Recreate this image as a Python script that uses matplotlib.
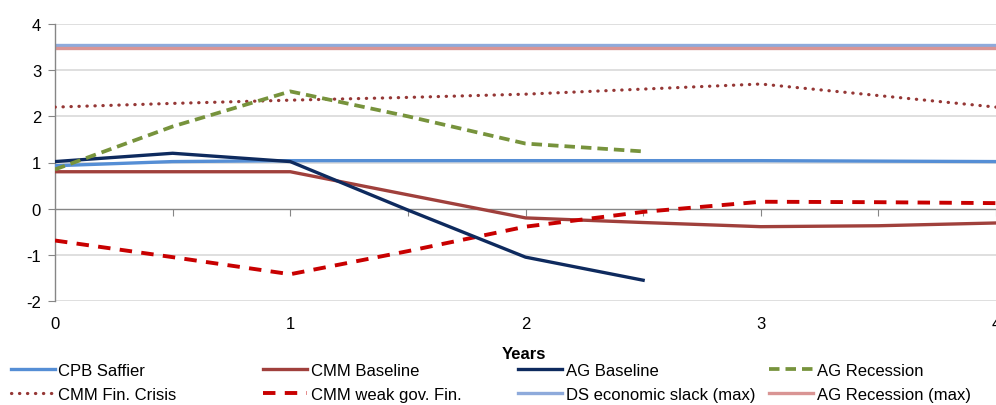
import matplotlib
matplotlib.use("Agg")
import matplotlib.pyplot as plt
from matplotlib.lines import Line2D
from matplotlib.transforms import blended_transform_factory

plt.rcParams['font.family'] = ['Liberation Sans', 'DejaVu Sans']

# Horizon in years (half-year steps)
years = [0, 0.5, 1, 1.5, 2, 2.5, 3, 3.5, 4]
years_ag = [0, 0.5, 1, 1.5, 2, 2.5]

cpb_saffier = [0.93, 1.02, 1.04, 1.04, 1.04, 1.04, 1.04, 1.03, 1.02]
cmm_baseline = [0.80, 0.80, 0.80, 0.30, -0.20, -0.30, -0.39, -0.37, -0.31]
ag_baseline = [1.02, 1.20, 1.02, -0.03, -1.05, -1.55]
ag_recession = [0.85, 1.78, 2.54, 2.00, 1.41, 1.24]
cmm_fin_crisis = [2.20, 2.28, 2.35, 2.41, 2.48, 2.59, 2.70, 2.45, 2.20]
cmm_weak_gov = [-0.69, -1.05, -1.42, -0.92, -0.39, -0.07, 0.15, 0.14, 0.12]
ds_slack_max = [3.55] * len(years)
ag_recession_max = [3.49] * len(years)

y_ticks = [-2, -1, 0, 1, 2, 3, 4]
x_labels = [0, 1, 2, 3, 4]
x_minor = [0.5, 1, 1.5, 2, 2.5, 3, 3.5, 4]

fig = plt.figure(figsize=(9.96, 4.06), dpi=100)
ax = fig.add_axes([55 / 996, 1 - 302 / 406, 1 - 55 / 996, (302 - 25) / 406])
ax.set_xlim(0, 4)
ax.set_ylim(-2, 4)

# horizontal gridlines
for yv in y_ticks:
    if yv != 0:
        ax.axhline(yv, color='#d9d9d9', lw=1.2, zorder=0)

styles = {
    'CPB Saffier': dict(color='#558ED5', lw=2.4),
    'CMM Baseline': dict(color='#A0403C', lw=2.4),
    'AG Baseline': dict(color='#0E2A5E', lw=2.4),
    'AG Recession': dict(color='#77933C', lw=2.7, linestyle=(0, (2.8, 1.6))),
    'CMM Fin. Crisis': dict(color='#953735', lw=2.3, linestyle=(0, (0.1, 2.4)),
                            dash_capstyle='round'),
    'CMM weak gov. Fin.': dict(color='#C80000', lw=2.8, linestyle=(0, (3.2, 2.4))),
    'DS economic slack (max)': dict(color='#8EAADB', lw=2.4),
    'AG Recession (max)': dict(color='#D99594', lw=2.4),
}

ax.plot(years, ds_slack_max, **styles['DS economic slack (max)'], zorder=2)
ax.plot(years, ag_recession_max, **styles['AG Recession (max)'], zorder=2)
ax.plot(years, cmm_fin_crisis, **styles['CMM Fin. Crisis'], zorder=3)
ax.plot(years, cpb_saffier, **styles['CPB Saffier'], zorder=3)
ax.plot(years, cmm_baseline, **styles['CMM Baseline'], zorder=3)
ax.plot(years, cmm_weak_gov, **styles['CMM weak gov. Fin.'], zorder=4)
ax.plot(years_ag, ag_baseline, **styles['AG Baseline'], zorder=5)
ax.plot(years_ag, ag_recession, **styles['AG Recession'], zorder=5)

# axes styling
for s in ['top', 'right']:
    ax.spines[s].set_visible(False)
ax.spines['left'].set_color('#868686')
ax.spines['left'].set_linewidth(1.0)
ax.spines['bottom'].set_position(('data', 0))
ax.spines['bottom'].set_color('#868686')
ax.spines['bottom'].set_linewidth(1.0)

ax.set_yticks(y_ticks)
ax.set_yticklabels([str(v) for v in y_ticks])
ax.tick_params(axis='y', direction='out', length=5, color='#868686',
               labelsize=12, pad=5)
ax.set_xticks(x_minor)
ax.set_xticklabels([])
ax.tick_params(axis='x', direction='out', length=5, color='#868686')

trans = blended_transform_factory(ax.transData, fig.transFigure)
for xv in x_labels:
    ax.text(xv, 1 - 325 / 406, str(xv), transform=trans, ha='center',
            va='center', fontsize=12, clip_on=False)

fig.text(524 / 996, 1 - 355 / 406, 'Years', ha='center', va='center',
         fontsize=12, fontweight='bold')

# legend, four columns of two rows
columns = [
    ['CPB Saffier', 'CMM Fin. Crisis'],
    ['CMM Baseline', 'CMM weak gov. Fin.'],
    ['AG Baseline', 'DS economic slack (max)'],
    ['AG Recession', 'AG Recession (max)'],
]
col_x = [11, 263, 518, 769]
for cx, names in zip(col_x, columns):
    handles = [Line2D([], [], **styles[n]) for n in names]
    fig.legend(handles, names, loc='upper left',
               bbox_to_anchor=(cx / 996, 1 - 364 / 406),
               frameon=False, fontsize=12, handlelength=2.65,
               handletextpad=0.2, labelspacing=0.55, borderpad=0,
               borderaxespad=0)

fig.savefig('out.png', dpi=100)
